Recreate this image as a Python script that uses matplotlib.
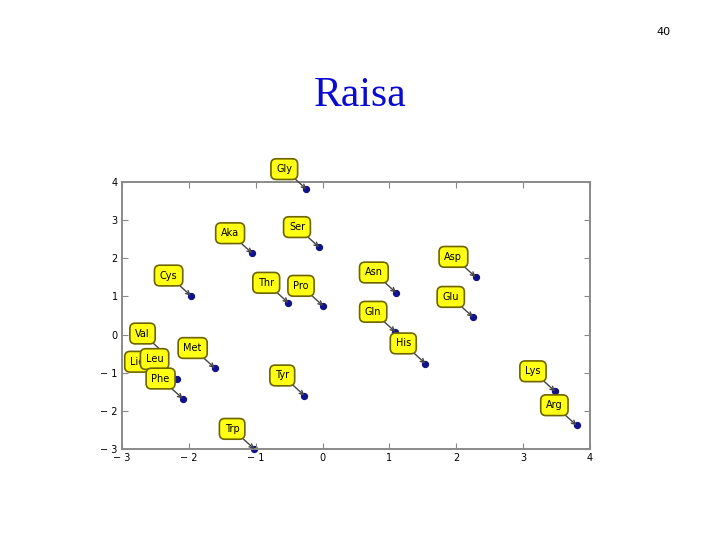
import matplotlib.pyplot as plt

# amino acid labels and their 2-D coordinates
labels = ["Gly", "Aka", "Ser", "Cys", "Thr", "Pro", "Asn", "Asp", "Glu", "Gln",
          "His", "Lys", "Arg", "Val", "Met", "Lie", "Leu", "Phe", "Tyr", "Trp"]
xs = [-0.24, -1.05, -0.05, -1.97, -0.51, 0.01, 1.10, 2.29, 2.25, 1.09,
      1.54, 3.48, 3.80, -2.36, -1.61, -2.44, -2.18, -2.09, -0.27, -1.02]
ys = [3.81, 2.13, 2.29, 1.02, 0.83, 0.75, 1.10, 1.51, 0.46, 0.07,
      -0.76, -1.49, -2.38, -0.50, -0.88, -1.24, -1.17, -1.68, -1.60, -3.00]

xticks = [-3, -2, -1, 0, 1, 2, 3, 4]
yticks = [-3, -2, -1, 0, 1, 2, 3, 4]


def tick_text(v):
    return "\u2212 %d" % -v if v < 0 else "%d" % v


fig = plt.figure(figsize=(7.2, 5.4), dpi=100)
fig.patch.set_facecolor("white")

# slide decorations
fig.text(0.5, 0.822, "Raisa", ha="center", va="center", color="#0a0ad2",
         fontsize=30, family="Liberation Serif")
fig.text(0.921, 0.94, "40", ha="center", va="center", color="black", fontsize=8)

ax = fig.add_axes([0.1694, 0.1685, 0.65, 0.4944])
ax.scatter(xs, ys, s=18, color="#12128c", zorder=1, clip_on=False)

for lab, x, y in zip(labels, xs, ys):
    ax.annotate(lab, xy=(x, y), xytext=(-16, 14.5), textcoords="offset points",
                ha="center", va="center", fontsize=7, color="black",
                bbox=dict(boxstyle="round,pad=0.55", fc="#ffff14", ec="#6e6400", lw=1.2),
                arrowprops=dict(arrowstyle="->", color="#444444", lw=1,
                                shrinkA=0, shrinkB=0))

ax.set_xlim(-3, 4)
ax.set_ylim(-3, 4)
ax.set_xticks(xticks)
ax.set_yticks(yticks)
ax.set_xticklabels([tick_text(v) for v in xticks])
ax.set_yticklabels([tick_text(v) for v in yticks])
ax.tick_params(direction="in", top=True, right=True, length=4, width=0.8,
               color="#888888", labelsize=7, pad=3)
for sp in ax.spines.values():
    sp.set_color("#8a8a8a")
    sp.set_linewidth(1.4)

fig.savefig("out.png", dpi=100)
